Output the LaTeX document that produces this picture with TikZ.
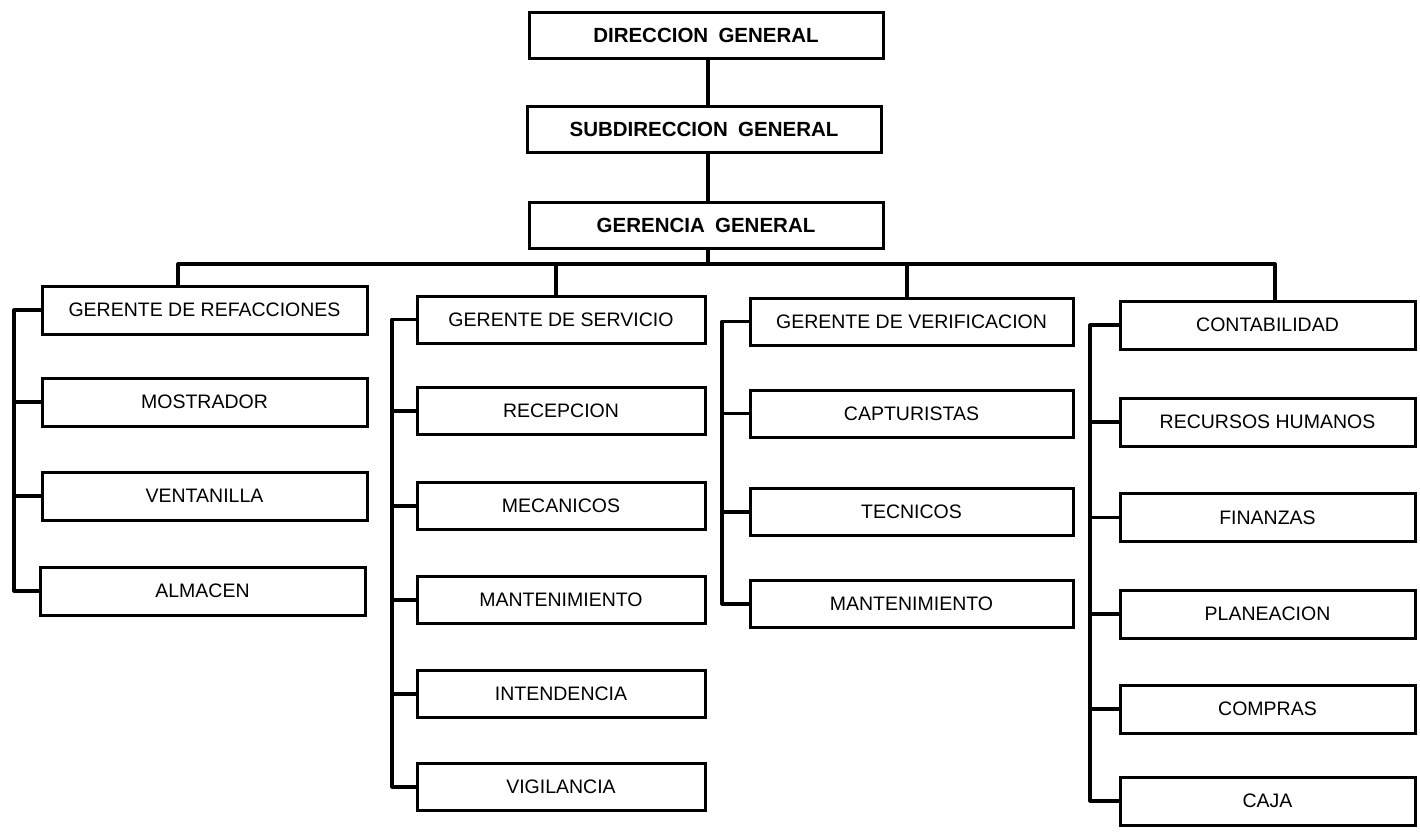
\documentclass[tikz,border=0pt]{standalone}
\usepackage{fontspec}
\setmainfont{Liberation Sans}
\begin{document}
\begin{tikzpicture}[x=1pt,y=-1pt,
  box/.style={draw, line width=3pt, inner sep=0pt, align=center},
  topbox/.style={box, minimum width=354pt, minimum height=46pt, font=\fontsize{20.5}{24}\selectfont\bfseries},
  c1box/.style={box, minimum width=325pt, minimum height=48pt, font=\fontsize{19.5}{23}\selectfont},
  c2box/.style={box, minimum width=288pt, minimum height=47pt, font=\fontsize{19.5}{23}\selectfont},
  c3box/.style={box, minimum width=323pt, minimum height=47pt, font=\fontsize{19.5}{23}\selectfont},
  c4box/.style={box, minimum width=295pt, minimum height=48pt, font=\fontsize{19.5}{23}\selectfont},
  wire/.style={line width=3.2pt, line cap=round, line join=round}]
\useasboundingbox[fill=white] (0,0) rectangle (1420,836);

% top
\node[topbox] (dir) at (706,35) {DIRECCION\hspace{0.5em}GENERAL};
\node[topbox] (sub) at (704,129.5) {SUBDIRECCION\hspace{0.5em}GENERAL};
\node[topbox] (ger) at (706,225) {GERENCIA\hspace{0.5em}GENERAL};

% column 1
\node[c1box] (refac) at (204.5,310) {GERENTE DE REFACCIONES};
\node[c1box] (most) at (204.5,402) {MOSTRADOR};
\node[c1box] (vent) at (204.5,496) {VENTANILLA};
\node[c1box] (alm) at (202.5,591) {ALMACEN};

% column 2
\node[c2box] (serv) at (561,319.5) {GERENTE DE SERVICIO};
\node[c2box] (recep) at (561,411) {RECEPCION};
\node[c2box] (mec) at (561,506) {MECANICOS};
\node[c2box] (mant) at (561,600) {MANTENIMIENTO};
\node[c2box] (inten) at (561,694) {INTENDENCIA};
\node[c2box] (vig) at (561,787) {VIGILANCIA};

% column 3
\node[c3box] (verif) at (911.5,321.5) {GERENTE DE VERIFICACION};
\node[c3box] (capt) at (911.5,413.5) {CAPTURISTAS};
\node[c3box] (tec) at (911.5,512) {TECNICOS};
\node[c3box] (mant2) at (911.5,604) {MANTENIMIENTO};

% column 4
\node[c4box] (contab) at (1267.5,325) {CONTABILIDAD};
\node[c4box] (rrhh) at (1267.5,422) {RECURSOS HUMANOS};
\node[c4box] (fin) at (1267.5,517.5) {FINANZAS};
\node[c4box] (plan) at (1267.5,614) {PLANEACION};
\node[c4box] (comp) at (1267.5,709) {COMPRAS};
\node[c4box] (caja) at (1267.5,801) {CAJA};

% bus coordinates
\coordinate (hub) at (708,264);
\coordinate (b1) at (178,264);
\coordinate (b2) at (556,264);
\coordinate (b3) at (907,264);
\coordinate (b4) at (1275,264);
\coordinate (t1) at (14,0);
\coordinate (t2) at (392,0);
\coordinate (t3) at (722,0);
\coordinate (t4) at (1090,0);

% top chain
\draw[wire] (dir.south -| hub) -- (sub.north -| hub);
\draw[wire] (sub.south -| hub) -- (ger.north -| hub);
\draw[wire] (ger.south -| hub) -- (hub);
\draw[wire] (b1) -- (b4);
\draw[wire] (b1) -- (b1 |- refac.north);
\draw[wire] (b2) -- (b2 |- serv.north);
\draw[wire] (b3) -- (b3 |- verif.north);
\draw[wire] (b4) -- (b4 |- contab.north);

% column 1 trunk and ticks
\draw[wire] (refac.west) -- (refac.west -| t1) -- (alm.west -| t1) -- (alm.west);
\draw[wire] (most.west) -- (most.west -| t1);
\draw[wire] (vent.west) -- (vent.west -| t1);

% column 2
\draw[wire] (serv.west) -- (serv.west -| t2) -- (vig.west -| t2) -- (vig.west);
\draw[wire] (recep.west) -- (recep.west -| t2);
\draw[wire] (mec.west) -- (mec.west -| t2);
\draw[wire] (mant.west) -- (mant.west -| t2);
\draw[wire] (inten.west) -- (inten.west -| t2);

% column 3
\draw[wire] (verif.west) -- (verif.west -| t3) -- (mant2.west -| t3) -- (mant2.west);
\draw[wire] (capt.west) -- (capt.west -| t3);
\draw[wire] (tec.west) -- (tec.west -| t3);

% column 4
\draw[wire] (contab.west) -- (contab.west -| t4) -- (caja.west -| t4) -- (caja.west);
\draw[wire] (rrhh.west) -- (rrhh.west -| t4);
\draw[wire] (fin.west) -- (fin.west -| t4);
\draw[wire] (plan.west) -- (plan.west -| t4);
\draw[wire] (comp.west) -- (comp.west -| t4);
\end{tikzpicture}
\end{document}
